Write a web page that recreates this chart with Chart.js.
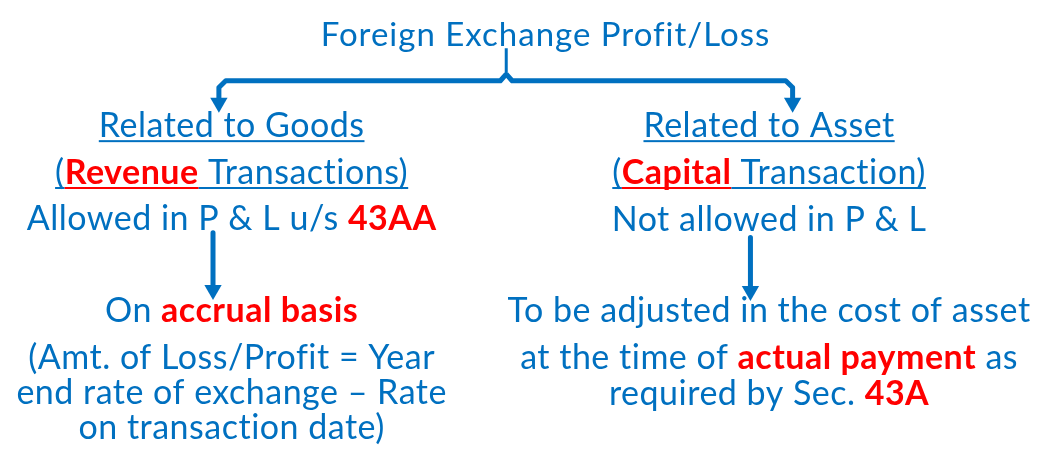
<!DOCTYPE html>
<html>
<head>
<meta charset="utf-8">
<script src="https://cdn.jsdelivr.net/npm/chart.js@4/dist/chart.umd.min.js"></script>
<style>
  body { margin: 0; background: #fff; }
  #wrap { width: 1037px; height: 455px; }
</style>
</head>
<body>
<div id="wrap"><canvas id="myChart" width="1037" height="455"></canvas></div>
<script>
// diagram content, in the chart's own units (x 0..1037, y 0..455 top-down)
const titleText = "Foreign Exchange Profit/Loss";
const titleAnchor = [546, 38];

const columnCenters = [226, 774];

const leftLines = [
  [["Related to Goods", 0]],
  [["(", 0], ["Revenue", 1], [" Transactions)", 0]],
  [["Allowed in P & L u/s ", 0], ["43AA", 1]],
  [["On ", 0], ["accrual basis", 1]],
  [["(Amt. of Loss/Profit = Year", 0]],
  [["end rate of exchange \u2013 Rate", 0]],
  [["on transaction date)", 0]]
];
const leftBaselines = [133, 182, 230, 326, 375, 412, 449];

const rightLines = [
  [["Related to Asset", 0]],
  [["(", 0], ["Capital", 1], [" Transaction)", 0]],
  [["Not allowed in P & L", 0]],
  [["To be adjusted in the cost of asset", 0]],
  [["at the time of ", 0], ["actual payment", 1], [" as", 0]],
  [["required by Sec. ", 0], ["43A", 1]]
];
const rightBaselines = [133, 182, 231, 326, 375, 413];

const underlinedRows = 2;

// connectors (each path ends at its arrow head)
const braceLeft = [[506, 67], [500, 74], [220, 74], [213, 81], [213, 97]];
const braceRight = [[506, 67], [512, 74], [791, 74], [798, 81], [798, 97]];
const braceNotch = [[506, 69], [506, 40]];
const arrowLeft = [[207, 233], [207, 293]];
const arrowRight = [[755, 238], [755, 294]];

const blue = "#0070C0";
const red = "#FF0000";
const fontFamily = "Lato, 'Open Sans', sans-serif";

function pts(arr) {
  return arr.map(p => ({ x: p[0], y: p[1] }));
}

function lineSet(arr, width, head) {
  const n = arr.length;
  return {
    data: pts(arr),
    showLine: true,
    borderColor: blue,
    backgroundColor: blue,
    borderWidth: width,
    borderCapStyle: "butt",
    borderJoinStyle: "round",
    tension: 0,
    pointStyle: "triangle",
    pointRotation: 180,
    pointBorderWidth: 0,
    pointRadius: arr.map((p, i) => (head && i === n - 1 ? head : 0))
  };
}

const textPlugin = {
  id: "diagramText",
  afterDatasetsDraw(chart) {
    const ctx = chart.ctx;
    const xs = chart.scales.x;
    const ys = chart.scales.y;
    ctx.save();
    ctx.textBaseline = "alphabetic";
    ctx.textAlign = "left";

    // title
    ctx.font = "33px " + fontFamily;
    ctx.letterSpacing = "1px";
    ctx.fillStyle = blue;
    const tw = ctx.measureText(titleText).width;
    ctx.fillText(titleText, xs.getPixelForValue(titleAnchor[0]) - tw / 2, ys.getPixelForValue(titleAnchor[1]));

    // small spacing also stops Lato's "ti" ligature
    ctx.letterSpacing = "0.5px";
    const drawColumn = (lines, baselines, cx) => {
      lines.forEach((segs, row) => {
        const fonts = segs.map(s => (s[1] ? "bold " : "") + "34px " + fontFamily);
        let total = 0;
        const widths = segs.map((s, i) => {
          ctx.font = fonts[i];
          const w = ctx.measureText(s[0]).width;
          total += w;
          return w;
        });
        let x = xs.getPixelForValue(cx) - total / 2;
        const y = ys.getPixelForValue(baselines[row]);
        segs.forEach((s, i) => {
          const col = s[1] ? red : blue;
          ctx.font = fonts[i];
          ctx.fillStyle = col;
          ctx.fillText(s[0], x, y);
          if (row < underlinedRows) {
            ctx.fillRect(x, y + 3, widths[i], 2);
          }
          x += widths[i];
        });
      });
    };
    drawColumn(leftLines, leftBaselines, columnCenters[0]);
    drawColumn(rightLines, rightBaselines, columnCenters[1]);
    ctx.restore();
  }
};

new Chart("myChart", {
  type: "scatter",
  data: {
    datasets: [
      lineSet(braceLeft, 5, 10),
      lineSet(braceRight, 5, 10),
      lineSet(braceNotch, 3, 0),
      lineSet(arrowLeft, 5, 10),
      lineSet(arrowRight, 5, 10)
    ]
  },
  options: {
    responsive: false,
    animation: false,
    layout: { padding: 0 },
    scales: {
      x: { type: "linear", min: 0, max: 1037, display: false },
      y: { type: "linear", min: 0, max: 455, reverse: true, display: false }
    },
    plugins: {
      legend: { display: false },
      tooltip: { enabled: false }
    }
  },
  plugins: [textPlugin]
});
</script>
</body>
</html>
